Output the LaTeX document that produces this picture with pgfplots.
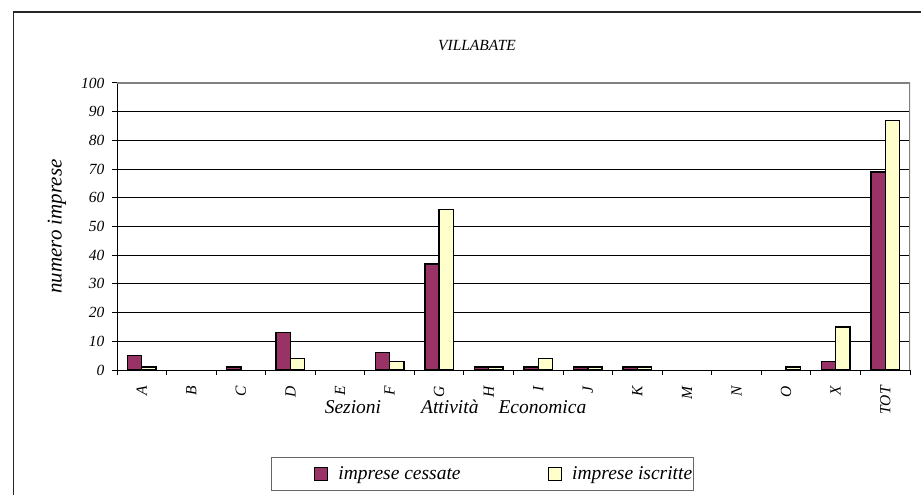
\documentclass[border=0pt]{standalone}
\usepackage{pgfplots}
\pgfplotsset{compat=1.18}
\usepackage{fontspec}
\setmainfont{Liberation Serif}
\definecolor{cess}{HTML}{993366}
\definecolor{iscr}{HTML}{FFFFCC}
\begin{document}
\begin{tikzpicture}
\useasboundingbox (0,0) rectangle (921bp,495bp);
\clip (0,0) rectangle (921bp,495bp);
\draw[line width=1.3bp, black!85] (13.5bp,-5bp) rectangle (930bp,483bp);
\begin{axis}[
  at={(117bp,125bp)}, anchor=south west,
  scale only axis, width=793bp, height=287bp,
  ybar=0pt, bar width=14.3bp,
  xmin=-0.5, xmax=15.5, ymin=0, ymax=100,
  axis x line*=bottom, axis y line*=left,
  axis line style={line width=1bp, black},
  axis on top=false,
  xtick={-0.5,0.5,...,15.5},
  x tick label as interval,
  xticklabels={A,B,C,D,E,F,G,H,I,J,K,M,N,O,X,TOT},
  ytick={0,10,...,100},
  ymajorgrids, grid style={black, line width=0.8bp},
  tick align=outside, major tick length=5bp,
  tick style={black, line width=1bp},
  /pgf/number format/assume math mode=true,
  ticklabel style={font=\fontsize{15.5bp}{18bp}\selectfont\itshape},
  yticklabel style={xshift=-4bp},
  xticklabel style={rotate=90, anchor=east, inner xsep=11bp},
  title={VILLABATE},
  title style={at={(axis description cs:0.454,1.1115)}, anchor=center, font=\fontsize{15.5bp}{18bp}\selectfont\itshape},
  ylabel={numero imprese},
  ylabel style={at={(axis description cs:-0.0757,0.5)}, anchor=center, font=\fontsize{21bp}{24bp}\selectfont\itshape},
  xlabel={Sezioni\hspace{40bp}Attività\hspace{20bp}Economica},
  xlabel style={at={(axis description cs:0.4269,-0.1533)}, anchor=base, font=\fontsize{19.5bp}{23bp}\selectfont\itshape},
  legend columns=2,
  legend style={at={(axis description cs:0.461,-0.362)}, anchor=center,
    draw=black!60, line width=1bp, inner xsep=1bp, inner ysep=9bp,
    font=\fontsize{19.5bp}{23bp}\selectfont\itshape,
    nodes={inner sep=0pt},
    /tikz/every odd column/.append style={column sep=10bp},
    /tikz/every even column/.append style={column sep=46bp}},
  every axis plot post/.append style={
    legend image code/.code={\path[draw=none,fill=none] (0bp,0bp) -- (42bp,0bp);
      \draw[##1, line width=1bp] (42bp,-6.5bp) rectangle (55bp,6.5bp);}},
]
% zero values (B, E, M, N, and C/O where zero) are drawn as no bar, as in the reference
\addplot[fill=cess, draw=black, line width=1.4bp] coordinates {
 (0,5) (2,1) (3,13) (5,6) (6,37) (7,1) (8,1) (9,1) (10,1) (14,3) (15,69)};
\addplot[fill=iscr, draw=black, line width=1.4bp] coordinates {
 (0,1) (3,4) (5,3) (6,56) (7,1) (8,4) (9,1) (10,1) (13,1) (14,15) (15,87)};
\legend{imprese cessate, imprese iscritte}
\draw[gray, line width=1.2bp] (rel axis cs:0,1) -- (rel axis cs:1,1) -- (rel axis cs:1,0);
\end{axis}
\end{tikzpicture}
\end{document}
